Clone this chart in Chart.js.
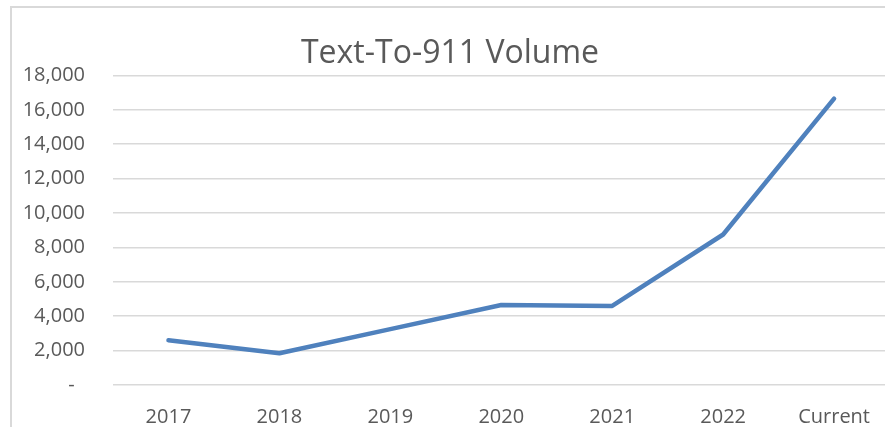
<!DOCTYPE html>
<html>
<head>
<meta charset="utf-8">
<script src="https://cdn.jsdelivr.net/npm/chart.js@4/dist/chart.umd.min.js"></script>
<style>
  html, body { margin: 0; padding: 0; background: #fff; overflow: hidden; }
  #frame { position: absolute; left: 10px; top: 6px; width: 1000px; height: 600px; border: 2px solid #d9d9d9; }
  #chart { position: absolute; left: 0; top: 0; }
</style>
</head>
<body>
<div id="frame"></div>
<canvas id="chart" width="890" height="427"></canvas>
<script>
// Données du graphique
const categories = ['2017', '2018', '2019', '2020', '2021', '2022', 'Current'];
const volumes = [2600, 1850, 3250, 4650, 4600, 8750, 16650];
const yMin = 0;
const yMax = 18000;
const yStep = 2000;

const textColor = '#595959';
const fontFamily = '"Open Sans", "Liberation Sans", sans-serif';

const ctx = document.getElementById('chart').getContext('2d');

const chart = new Chart(ctx, {
    type: 'line',
    data: {
        labels: categories,
        datasets: [{
            label: 'Text-To-911 Volume',
            data: volumes,
            borderColor: '#4f81bd',
            backgroundColor: '#4f81bd',
            borderWidth: 4.5,
            borderCapStyle: 'round',
            borderJoinStyle: 'round',
            pointRadius: 0,
            tension: 0,
            fill: false,
        }],
    },
    options: {
        responsive: false,
        animation: false,
        // le titre est centré sur tout le cadre du graphique
        layout: { padding: { left: 10, right: 0, top: 0, bottom: 0 } },
        plugins: {
            legend: { display: false },
            tooltip: { enabled: false },
            title: {
                display: true,
                text: 'Text-To-911 Volume',
                color: textColor,
                font: { family: fontFamily, size: 32, weight: 'normal' },
                padding: { top: 35, bottom: 2 },
            },
        },
        scales: {
            x: {
                offset: true,
                grid: { display: false, drawTicks: false },
                border: { display: false },
                ticks: {
                    color: textColor,
                    font: { family: fontFamily, size: 20 },
                    padding: 20,
                    maxRotation: 0,
                    autoSkip: false,
                },
                afterFit: (scale) => { scale.height = 42; },
            },
            y: {
                min: yMin,
                max: yMax,
                grid: { color: '#d9d9d9', lineWidth: 1.5, drawTicks: false },
                border: { display: false },
                ticks: {
                    stepSize: yStep,
                    color: textColor,
                    font: { family: fontFamily, size: 20 },
                    padding: 28,
                    callback: (v) => v === 0 ? '-  ' : v.toLocaleString('en-US'),
                },
                afterFit: (scale) => { scale.width = 103; },
            },
        },
    },
});
</script>
</body>
</html>
